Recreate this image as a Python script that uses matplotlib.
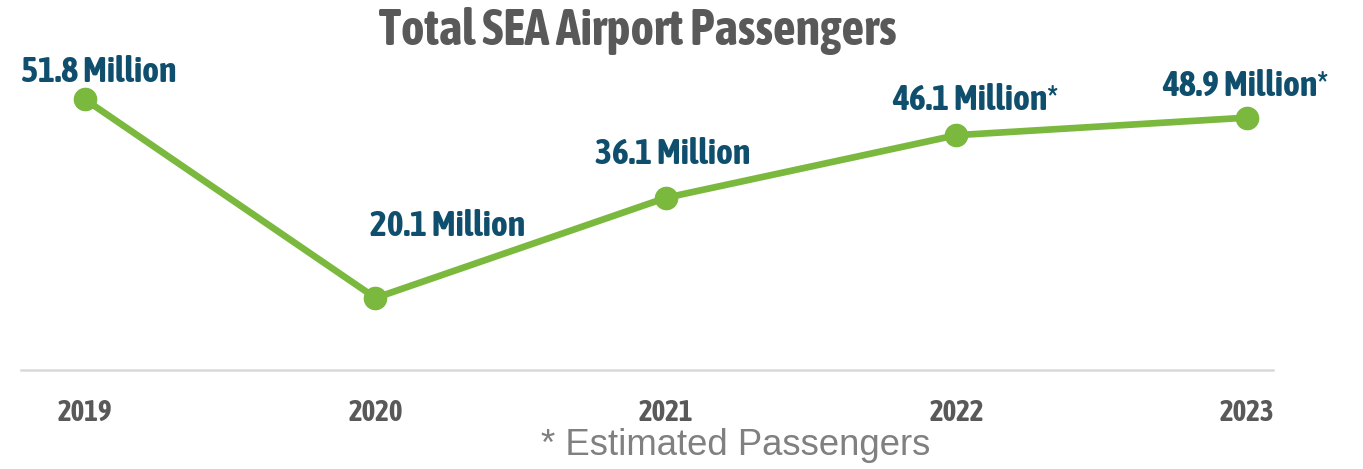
import matplotlib
matplotlib.use("Agg")
import matplotlib.pyplot as plt
from matplotlib import font_manager

# ---- data ----
years = [2019, 2020, 2021, 2022, 2023]
passengers_millions = [51.8, 20.1, 36.1, 46.1, 48.9]
value_labels = ["51.8 Million", "20.1 Million", "36.1 Million",
                "46.1 Million*", "48.9 Million*"]
tick_labels = ["2019", "2020", "2021", "2022", "2023"]
title_text = "Total SEA Airport Passengers"
footnote_text = "* Estimated Passengers"

# ---- fonts: look for a condensed bold face ----
cond = None
for f in font_manager.fontManager.ttflist:
    n = f.name.lower()
    if ("narrow" in n or "condensed" in n) and f.weight in ("bold", 700, "heavy"):
        cond = dict(family=f.name, weight="bold")
        break
if cond is None:
    for f in font_manager.fontManager.ttflist:
        if f.stretch in ("condensed", "semi-condensed", "extra-condensed") and \
                f.weight in ("bold", 700):
            cond = dict(family=f.name, weight="bold", stretch=f.stretch)
            break
if cond is None:
    cond = dict(family="DejaVu Sans", weight="bold", stretch="condensed")

GREEN = "#7ab83e"
TEAL = "#0f4f6d"
GREY = "#595959"
LIGHT = "#808080"

# label offsets in pixels (dx, dy up to baseline)
label_offsets = [(14, 17), (72, 62), (7, 34), (19, 25), (-2, 22)]

W, H = 1363, 469
fig = plt.figure(figsize=(W / 100, H / 100), dpi=100)
renderer = fig.canvas.get_renderer()


def fit_size(text, target_px, props, base=20.0, cap_pt=None):
    t = fig.text(0, 0, text, fontsize=base, **props)
    w = t.get_window_extent(renderer).width
    t.remove()
    s = base * target_px / w
    if cap_pt is not None:
        s = min(s, cap_pt)
    return s


lab_size = fit_size("51.8 Million", 156, cond, cap_pt=26)
year_size = fit_size("2019", 55, cond, cap_pt=21)
title_size = fit_size(title_text, 548, cond, cap_pt=36)
foot_size = fit_size(footnote_text, 388, dict(family="Liberation Sans"), cap_pt=27)

ax = fig.add_axes([21 / W, (H - 370) / H, (1273 - 21) / W, 370 / H])
ax.set_xlim(2018.7797, 2023.0895)
ax.set_ylim(8.59, 67.69)

ax.plot(years, passengers_millions, color=GREEN, lw=4.8, marker="o",
        markersize=16, solid_capstyle="round", clip_on=False, zorder=3)

for x, y, lab, (dx, dy) in zip(years, passengers_millions, value_labels, label_offsets):
    ax.annotate(lab, (x, y), xytext=(dx, dy), textcoords="offset pixels",
                ha="center", va="baseline", color=TEAL, fontsize=lab_size, **cond,
                annotation_clip=False)

for s in ["top", "right", "left"]:
    ax.spines[s].set_visible(False)
ax.spines["bottom"].set_color("#d9d9d9")
ax.spines["bottom"].set_linewidth(1.8)
ax.set_yticks([])
ax.set_xticks(years)
ax.set_xticklabels(tick_labels, color=GREY, fontsize=year_size, **cond)
ax.tick_params(axis="x", length=0, pad=20)
ax.patch.set_alpha(0)

fig.text(638 / W, 1 - 45 / H, title_text, ha="center", va="baseline",
         color=GREY, fontsize=title_size, **cond)
fig.text(736 / W, 1 - 455 / H, footnote_text, ha="center", va="baseline",
         color=LIGHT, fontsize=foot_size, family="Liberation Sans")

fig.savefig("out.png", dpi=100, facecolor="white")
